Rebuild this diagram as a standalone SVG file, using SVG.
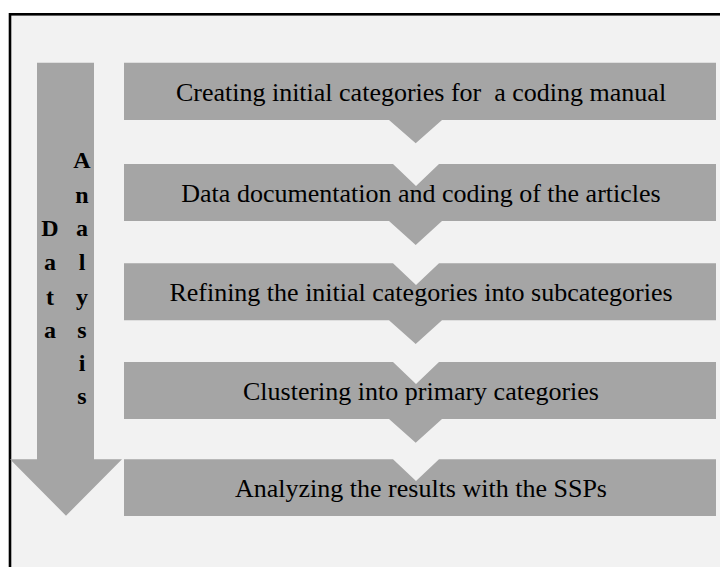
<svg xmlns="http://www.w3.org/2000/svg" width="720" height="567" viewBox="0 0 720 567">
<style>
.box{fill:#a5a5a5;}
.lbl{font-family:"Liberation Serif","Times New Roman",serif;font-size:26px;fill:#000;text-anchor:middle;white-space:pre;}
.vt{font-family:"Liberation Serif","Times New Roman",serif;font-size:24px;font-weight:bold;fill:#000;text-anchor:middle;}
</style>
<rect x="0" y="0" width="720" height="567" fill="#ffffff"/>
<rect x="10" y="14.3" width="730" height="580" fill="#f2f2f2" stroke="#000" stroke-width="2.6"/>
<g id="data-analysis-arrow">
<polygon class="box" points="37,62.7 94,62.7 94,459.3 122,459.3 66,515.7 10,459.3 37,459.3"/>
<g class="vt">
<text x="50" y="236">D</text>
<text x="50" y="270">a</text>
<text x="50" y="305">t</text>
<text x="50" y="338">a</text>
<text x="82" y="168">A</text>
<text x="82" y="203">n</text>
<text x="82" y="236">a</text>
<text x="82" y="270">l</text>
<text x="82" y="305">y</text>
<text x="82" y="338">s</text>
<text x="82" y="371">i</text>
<text x="82" y="404">s</text>
</g>
</g>
<g id="step1">
<polygon class="box" points="124,62.7 716,62.7 716,120 442,120 415.7,143.3 389,120 124,120"/>
<text class="lbl" x="421" y="101">Creating initial categories for  a coding manual</text>
</g>
<g id="step2">
<polygon class="box" points="124,164 393,164 416,186 439,164 716,164 716,221 442,221 415.7,245 389,221 124,221"/>
<text class="lbl" x="421" y="202">Data documentation and coding of the articles</text>
</g>
<g id="step3">
<polygon class="box" points="124,263.3 393,263.3 416,285 439,263.3 716,263.3 716,320.3 442,320.3 415.7,344 389,320.3 124,320.3"/>
<text class="lbl" x="421" y="301.3">Refining the initial categories into subcategories</text>
</g>
<g id="step4">
<polygon class="box" points="124,362 393,362 416,384 439,362 716,362 716,419 442,419 415.7,442.7 389,419 124,419"/>
<text class="lbl" x="421" y="400">Clustering into primary categories</text>
</g>
<g id="step5">
<polygon class="box" points="124,459.3 393,459.3 416,481 439,459.3 716,459.3 716,516 124,516"/>
<text class="lbl" x="421" y="497">Analyzing the results with the SSPs</text>
</g>
<g id="connectors"></g>
</svg>
